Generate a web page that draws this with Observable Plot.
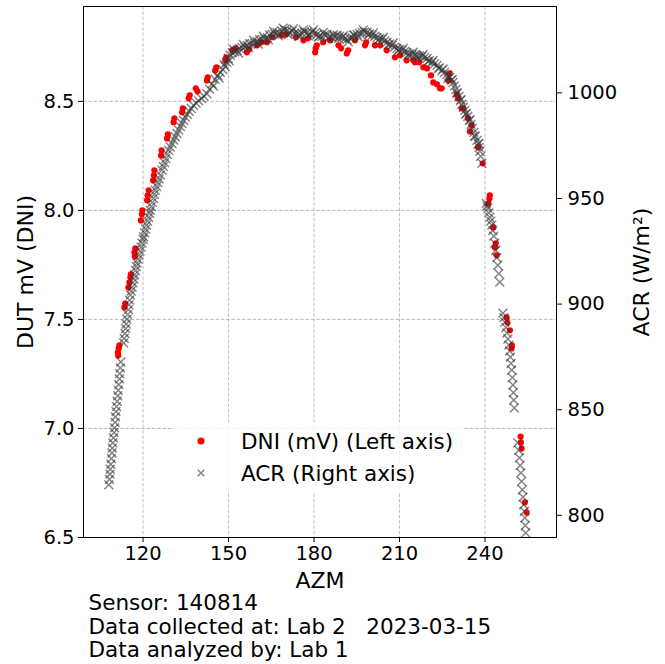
<!DOCTYPE html>
<html>
<head>
<meta charset="utf-8">
<script src="https://cdn.jsdelivr.net/npm/d3@7"></script>
<script src="https://cdn.jsdelivr.net/npm/@observablehq/plot@0.6"></script>
<style>
  html, body { margin: 0; padding: 0; background: white; }
  #wrap { position: relative; width: 665px; height: 664px; font-family: "DejaVu Sans", sans-serif; overflow: hidden; }
  #chart text { white-space: pre; }
  #legend { position: absolute; left: 172px; top: 422px; width: 292px; height: 70px; background: rgba(255,255,255,0.8); font-size: 21.5px; color: #000; }
  .lrow { position: absolute; left: 0; height: 26px; display: flex; align-items: center; }
  .lrow svg { margin-left: 22px; }
  .lrow span { margin-left: 33px; white-space: pre; }
</style>
</head>
<body>
<div id="wrap">
  <div id="chart"></div>
  <div id="legend"></div>
</div>
<script>
// ---- data ----
const azmTicks = [120, 150, 180, 210, 240];
const dniTicks = [6.5, 7.0, 7.5, 8.0, 8.5];
const acrTicks = [800, 850, 900, 950, 1000];

const xLabel = "AZM";
const yLabelLeft = "DUT mV (DNI)";
const yLabelRight = "ACR (W/m²)";
const legendLabels = ["DNI (mV) (Left axis)", "ACR (Right axis)"];
const captionLines = ["Sensor: 140814", "Data collected at: Lab 2   2023-03-15", "Data analyzed by: Lab 1"];

// DNI (left axis): [azm, mV]
const dniSeries = [
  [111.17,7.349],[111.27,7.335],[111.45,7.367],[111.69,7.381],
  [113.45,7.555],[113.73,7.573],
  [114.85,7.647],[115.2,7.670],[115.55,7.693],[115.72,7.707],
  [116.95,7.807],[117.13,7.789],[117.3,7.826],
  [119.23,7.954],[119.58,7.982],[119.75,8.000],
  [121.4,8.046],[121.6,8.069],[121.96,8.092],
  [123.5,8.138],[123.8,8.161],[123.96,8.184],
  [126.3,8.252],[126.5,8.275],
  [128.4,8.330],[128.7,8.349],
  [130.7,8.404],[131.0,8.422],
  [133.7,8.450],[133.95,8.468],
  [136.0,8.514],[136.4,8.528],
  [138.5,8.560],[139.1,8.546],
  [142.4,8.596],[142.7,8.610],
  [145.3,8.642],[145.7,8.656],
  [148.85,8.688],[149.2,8.702],
  [151.3,8.734],[152.35,8.743],
  [156.45,8.725],[157.25,8.739],
  [160.0,8.757],[161.5,8.771],[163.5,8.771],[165.3,8.794],
  [168.7,8.803],[170.2,8.807],[173.7,8.794],
  [176.3,8.780],[177.9,8.789],
  [180.4,8.725],[180.6,8.743],[181.0,8.757],
  [183.2,8.771],[185.65,8.780],
  [188.6,8.757],[189.5,8.743],
  [191.5,8.720],[192.0,8.734],
  [194.4,8.780],[197.9,8.757],[198.3,8.771],
  [201.4,8.757],[203.2,8.757],[205.5,8.734],
  [208.4,8.702],[210.2,8.711],
  [212.5,8.688],[214.85,8.688],[215.45,8.679],[216.85,8.679],
  [218.35,8.656],[219.65,8.651],
  [221.05,8.619],[221.85,8.587],[223.15,8.578],
  [224.2,8.560],[224.8,8.560],
  [227.1,8.596],[227.5,8.628],
  [230.05,8.532],[230.5,8.514],
  [231.8,8.468],[232.4,8.468],
  [234.0,8.422],[234.7,8.362],[235.3,8.390],
  [237.6,8.289],[239.2,8.216],
  [241.1,8.032],[241.55,8.055],[241.7,8.069],
  [242.9,7.922],[243.5,7.830],[243.8,7.849],[244.1,7.794],
  [247.6,7.509],[247.85,7.486],[248.75,7.450],
  [249.3,7.367],[249.45,7.381],
  [252.5,6.963],[252.6,6.936],[252.85,6.908],
  [254.0,6.661],[254.6,6.615]
];

// ACR (right axis): [azm, W/m2]
const acrSeries = [
  [108.0,814.4],[108.2,817.0],[108.4,819.5],[108.5,821.8],[108.7,824.2],[108.9,826.9],
  [109.1,829.5],[109.2,831.8],[109.4,834.3],[109.6,836.7],[109.8,839.2],[110.0,841.4],
  [110.2,844.0],[110.3,846.6],[110.5,849.1],[110.7,851.5],[110.9,854.0],[111.1,856.6],
  [111.3,859.2],[111.5,861.9],[111.7,864.6],[111.8,867.1],[112.0,869.8],[112.2,872.6],
  [113.2,881.6],[113.4,883.8],[113.65,886.1],[113.9,888.4],[114.1,890.6],[114.35,892.9],
  [114.6,895.1],[114.85,897.4],[115.05,899.6],[115.3,901.9],[115.55,904.3],
  [115.85,906.2],[116.15,908.1],[116.45,910.1],[116.75,912.0],[117.05,913.9],[117.35,915.9],
  [117.65,917.8],[117.9,919.4],
  [118.25,921.3],[118.6,923.2],[118.95,925.1],[119.3,927.0],[119.65,928.9],[120.0,930.7],[120.2,931.8],
  [120.55,933.7],[120.9,935.5],[121.25,937.4],[121.6,939.3],[121.95,941.1],[122.3,943.0],[122.56,944.4],
  [122.9,946.2],[123.25,948.2],[123.6,950.1],[123.95,952.0],[124.3,953.9],
  [124.75,955.7],[125.2,957.5],[125.65,959.3],[126.1,961.1],[126.66,963.4],
  [127.1,965.2],[127.55,967.0],[128.0,968.9],[128.5,970.9],[128.97,972.8],
  [129.55,974.4],[130.15,976.0],[130.75,977.7],[131.3,979.2],[131.9,980.8],
  [132.5,982.4],[133.1,984.0],[133.65,985.5],[134.2,987.0],[134.8,988.6],
  [135.5,989.9],[136.2,991.3],[136.9,992.6],[137.7,994.1],
  [138.6,995.2],[139.5,996.2],[140.5,997.4],[141.4,998.4],[142.4,999.6],
  [143.3,1001.8],[144.2,1004.3],[145.3,1006.4],[146.2,1008.2],[147.1,1009.7],[148.0,1011.0],
  [148.85,1012.5],[149.4,1014.5],[149.9,1016.3],[150.6,1017.8],[151.3,1019.1],[152.2,1019.4],
  [153.05,1020.1],[153.9,1021.0],[154.8,1021.5],[155.7,1021.8],[156.56,1022.5],[157.4,1023.3],
  [158.3,1023.4],[159.2,1023.6],[160.06,1024.4],[160.9,1025.2],[161.8,1025.3],[162.7,1025.5],
  [163.57,1026.2],[164.4,1027.4],[165.3,1027.7],[166.2,1027.9],[167.07,1028.6],[167.9,1028.2],
  [168.8,1029.1],[169.7,1029.9],[170.58,1029.6],[171.4,1028.8],[172.3,1029.1],[173.2,1028.4],
  [174.1,1028.1],[175.0,1027.6],[175.8,1028.1],[176.7,1029.0],[177.6,1028.6],[178.5,1028.0],
  [179.3,1028.6],[180.2,1028.2],[181.1,1027.7],[182.0,1026.9],[182.8,1026.7],[183.7,1027.5],
  [184.6,1027.7],[185.5,1026.8],[186.35,1026.2],[187.2,1026.5],[188.1,1027.2],[189.0,1026.9],
  [189.85,1026.2],[190.7,1025.6],[191.6,1025.3],[192.5,1025.9],[193.36,1026.2],[194.2,1027.3],
  [195.1,1027.7],[196.0,1028.2],[196.9,1028.6],[197.8,1028.9],[198.6,1028.6],[199.5,1027.9],
  [200.4,1027.2],[201.3,1026.8],[202.1,1026.2],[203.0,1025.7],[203.9,1025.3],[204.8,1024.6],
  [205.6,1023.9],[206.5,1023.2],[207.4,1022.5],[208.3,1021.7],[209.1,1021.0],[210.0,1020.6],
  [210.9,1020.1],[211.8,1019.6],[212.6,1019.1],[213.5,1018.6],[214.4,1018.2],[215.3,1017.9],
  [216.1,1017.7],[217.0,1017.6],[217.9,1017.3],[218.8,1016.8],[219.65,1016.3],[220.5,1015.3],
  [221.4,1014.4],[222.3,1013.8],[223.15,1013.0],[224.0,1011.8],[224.9,1010.6],[225.8,1009.7],
  [226.65,1008.7],[227.2,1008.0],[227.7,1007.3],[228.2,1006.1],[228.76,1004.9],[229.3,1003.3],
  [229.8,1001.7],[230.3,1000.0],[230.9,998.3],[231.4,996.4],[231.9,994.6],[232.4,993.2],
  [232.95,991.7],[233.5,990.3],[234.0,988.9],[234.5,987.0],[235.1,985.1],[235.6,983.2],
  [236.1,981.3],[236.6,979.4],[237.2,977.5],[237.6,975.8],[237.9,974.2],[238.2,972.3],
  [238.5,970.0],[238.9,966.7],
  [240.5,947.7],[240.7,946.5],[241.0,945.4],[241.35,943.2],[241.7,941.1],[242.05,939.3],
  [242.4,937.4],[242.75,934.8],[243.1,932.2],[243.45,928.8],[243.8,925.5],[244.15,922.0],
  [244.5,918.4],[244.85,914.4],[245.2,910.4],
  [246.3,895.7],[246.65,893.6],[247.0,891.5],[247.35,888.9],[247.7,886.3],[248.05,883.5],
  [248.4,880.6],[248.65,877.8],[248.9,874.9],[249.15,871.9],[249.4,868.8],[249.6,865.2],
  [249.8,861.7],[249.95,858.1],[250.1,854.6],[250.3,850.8],
  [251.5,834.3],[251.8,830.8],[252.1,827.2],[252.35,823.6],[252.6,820.1],[252.85,816.1],
  [253.1,812.1],[253.35,808.6],[253.6,805.0],[253.8,801.9],[254.0,798.8],[254.15,795.2],[254.3,791.7],
  // scattered readings across the thickness of the band near the top
  [144.7,1003.2],[146.7,1007.0],[148.4,1013.4],[150.2,1015.2],[151.8,1020.6],[153.5,1018.9],
  [155.2,1022.9],[157.0,1021.4],[158.8,1024.9],[160.5,1023.1],[162.2,1026.8],[164.0,1025.1],
  [165.8,1029.2],[167.5,1027.0],[169.2,1030.6],[171.0,1027.6],[172.8,1030.4],[174.6,1026.7],
  [176.2,1029.8],[178.0,1027.0],[179.8,1029.8],[181.5,1026.4],[183.3,1028.6],[185.0,1025.7],
  [186.8,1027.6],[188.5,1025.8],[190.3,1027.1],[192.0,1024.2],[193.8,1027.4],[195.5,1026.5],
  [197.3,1029.8],[199.0,1027.4],[200.8,1028.4],[202.5,1025.0],[204.3,1026.4],[206.0,1022.6],
  [207.8,1023.6],[209.5,1020.0],[211.3,1021.2],[213.0,1017.8],[214.8,1019.3],[216.5,1016.6],
  [218.3,1018.2],[220.0,1014.9],[221.8,1015.4],[223.6,1011.6],[225.3,1011.3],[227.0,1006.9],
  [228.5,1006.3],[230.1,999.9],[231.6,996.8],[233.2,990.0],[234.8,987.3],[236.3,979.6],[237.8,976.0]
];

// ---- scales ----
const xDomain = [99.1, 265.1];
const dniDomain = [6.5, 8.935];
const acrDomain = [789.5, 1040.9];
const acrToLeft = v => dniDomain[0] + (v - acrDomain[0]) * (dniDomain[1] - dniDomain[0]) / (acrDomain[1] - acrDomain[0]);

const font = "DejaVu Sans";
const tickFs = 19.5;
const labelFs = 22;
const capFs = 21.5;

const plot = Plot.plot({
  width: 665,
  height: 664,
  marginLeft: 83,
  marginRight: 109,
  marginTop: 6,
  marginBottom: 127,
  style: {fontFamily: font, fontSize: tickFs + "px", background: "white", color: "black"},
  x: {domain: xDomain},
  y: {domain: dniDomain},
  marks: [
    Plot.gridX(azmTicks, {stroke: "#b0b0b0", strokeOpacity: 1, strokeWidth: 0.8, strokeDasharray: "3.5,1.8"}),
    Plot.gridY(dniTicks.slice(1), {stroke: "#a8a8a8", strokeOpacity: 1, strokeWidth: 0.8, strokeDasharray: "3.5,1.8"}),
    Plot.dot(dniSeries, {x: d => d[0], y: d => d[1], r: 3.1, fill: "#ff0000", stroke: "none"}),
    Plot.dot(acrSeries, {x: d => d[0], y: d => acrToLeft(d[1]), symbol: "times", r: 4.1, stroke: "#333333", strokeOpacity: 0.62, strokeWidth: 1.4}),
    Plot.frame({stroke: "black", strokeWidth: 1}),
    Plot.axisX({ticks: azmTicks, tickSize: 5, tickPadding: 4, fontSize: tickFs, label: null}),
    Plot.axisY({ticks: dniTicks, tickSize: 5, tickPadding: 4, fontSize: tickFs, tickFormat: d3.format(".1f"), label: null}),
    Plot.axisY({anchor: "right", ticks: acrTicks.map(acrToLeft), tickSize: 5, tickPadding: 6, fontSize: tickFs,
      tickFormat: (d, i) => String(acrTicks[i]), label: null}),
    Plot.text([xLabel], {text: d => d, frameAnchor: "bottom", dy: 43, lineAnchor: "middle", textAnchor: "middle", fontSize: labelFs}),
    Plot.text([yLabelLeft], {text: d => d, frameAnchor: "left", dx: -58, rotate: -90, lineAnchor: "middle", textAnchor: "middle", fontSize: labelFs}),
    Plot.text([yLabelRight], {text: d => d, frameAnchor: "right", dx: 85, rotate: -90, lineAnchor: "middle", textAnchor: "middle", fontSize: labelFs}),
    Plot.text([captionLines.join("\n")], {text: d => d, frameAnchor: "bottom-left", dx: 5, dy: 56, lineAnchor: "top", textAnchor: "start", lineHeight: 1.093, fontSize: capFs})
  ]
});
document.getElementById("chart").appendChild(plot);

// legend
const legend = document.getElementById("legend");
const symbols = [
  '<svg width="14" height="14" viewBox="-7 -7 14 14"><circle r="3.5" fill="#ff0000"/></svg>',
  '<svg width="14" height="14" viewBox="-7 -7 14 14"><path d="M-3.3,-3.3L3.3,3.3M-3.3,3.3L3.3,-3.3" stroke="#333333" stroke-opacity="0.62" stroke-width="1.4"/></svg>'
];
legendLabels.forEach((lab, i) => {
  const row = document.createElement("div");
  row.className = "lrow";
  row.style.top = (6 + i * 32) + "px";
  row.innerHTML = symbols[i] + "<span>" + lab + "</span>";
  legend.appendChild(row);
});
</script>
</body>
</html>
